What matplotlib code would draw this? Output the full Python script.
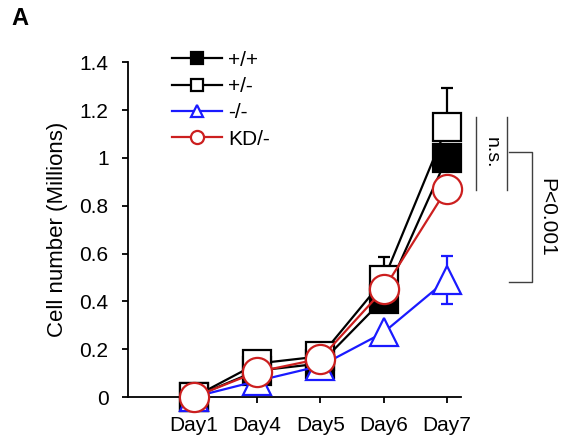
import numpy as np
import matplotlib.pyplot as plt

plt.rcParams['font.family'] = ['Liberation Sans', 'DejaVu Sans']

days = ['Day1', 'Day4', 'Day5', 'Day6', 'Day7']

# cell numbers (millions)
wt = [0.0, 0.11, 0.14, 0.41, 1.00]
het = [0.0, 0.14, 0.17, 0.49, 1.13]
het_err = [0.0, 0.0, 0.0, 0.095, 0.16]
ko = [0.0, 0.067, 0.13, 0.27, 0.49]
ko_err = [0.0, 0.0, 0.0, 0.0, 0.10]
kd = [0.0, 0.105, 0.16, 0.45, 0.87]

x = np.arange(len(days))

fig = plt.figure(figsize=(5.64, 4.40), dpi=100)
ax = fig.add_axes([0.227, 0.0977, 0.590, 0.761])

ms = 20.5
mew = 1.6
ax.plot(x, wt, '-s', color='black', mfc='black', mec='black', ms=ms, mew=mew, lw=1.6, label='+/+', zorder=3, clip_on=False)
ax.errorbar(x[3:], het[3:], yerr=[[0, 0], het_err[3:]], fmt='none', ecolor='black', elinewidth=1.6, capsize=4, capthick=1.6, zorder=2)
ax.plot(x, het, '-s', color='black', mfc='white', mec='black', ms=ms, mew=mew, lw=1.6, label='+/-', zorder=4, clip_on=False)
ax.errorbar(x[4:], ko[4:], yerr=ko_err[4:], fmt='none', ecolor='#1a1aff', elinewidth=1.6, capsize=4, capthick=1.6, zorder=2)
ax.plot(x, ko, '-^', color='#1a1aff', mfc='white', mec='#1a1aff', ms=20, mew=mew, lw=1.6, label='-/-', zorder=5, clip_on=False)
ax.plot(x, kd, '-o', color='#cc1f1f', mfc='white', mec='#cc1f1f', ms=21, mew=mew, lw=1.6, label='KD/-', zorder=6, clip_on=False)

ax.set_xlim(-1.04, 4.22)
ax.set_ylim(0, 1.4)
ax.set_xticks(x)
ax.set_xticklabels(days)
ax.set_yticks([0, 0.2, 0.4, 0.6, 0.8, 1.0, 1.2, 1.4])
ax.set_yticklabels(['0', '0.2', '0.4', '0.6', '0.8', '1', '1.2', '1.4'])
ax.tick_params(labelsize=15, length=4, width=1.3, direction='out', pad=10)
ax.set_ylabel('Cell number (Millions)', fontsize=16, labelpad=8)
for s in ['top', 'right']:
    ax.spines[s].set_visible(False)
for s in ['left', 'bottom']:
    ax.spines[s].set_linewidth(1.3)

leg = ax.legend(loc='upper left', bbox_to_anchor=(0.076, 1.09), frameon=False, fontsize=15,
                markerscale=0.45, handlelength=2.4, handletextpad=0.3, labelspacing=0.35)

# significance brackets
gray = '#404040'
ax.plot([4.46, 4.46], [0.865, 1.17], color=gray, lw=1, clip_on=False)
ax.plot([4.95, 4.95], [0.865, 1.17], color=gray, lw=1, clip_on=False)
ax.text(4.70, 1.02, 'n.s.', rotation=-90, ha='center', va='center', fontsize=14, clip_on=False)
ax.plot([4.98, 5.34, 5.34, 4.98], [1.024, 1.024, 0.48, 0.48], color=gray, lw=1, clip_on=False)
ax.text(5.58, 0.75, 'P<0.001', rotation=-90, ha='center', va='center', fontsize=15, clip_on=False)

fig.text(0.021, 0.957, 'A', fontsize=17, fontweight='bold', va='center')

fig.savefig('out.png', dpi=100)
